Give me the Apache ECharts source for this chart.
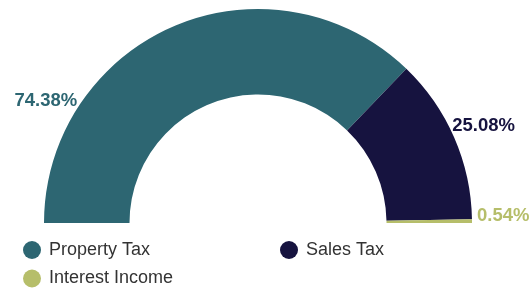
<!DOCTYPE html>
<html>
<head>
<meta charset="utf-8">
<script src="https://cdn.jsdelivr.net/npm/echarts@6/dist/echarts.min.js"></script>
<style>
  html, body { margin: 0; padding: 0; background: #fff; }
  #main { width: 529px; height: 291px; }
</style>
</head>
<body>
<div id="main"></div>
<script>
// revenue shares (percent)
var categories = ['Property Tax', 'Sales Tax', 'Interest Income'];
var shares = [74.38, 25.08, 0.54];
var colors = ['#2d6672', '#16133f', '#b6be6a'];

var myChart = echarts.init(document.getElementById('main'));

var pieData = categories.map(function (name, i) {
    return {
        name: name,
        value: shares[i],
        itemStyle: { color: colors[i] },
        label: { color: colors[i] }
    };
});

// nudge the outside labels to where the original puts them
var labelShift = [[-92, 75], [-7, -12], [0, -5]];

function legendAt(left, names) {
    return {
        data: names,
        orient: 'vertical',
        left: left,
        top: 236,
        height: 60,
        icon: 'circle',
        itemWidth: 24,
        itemHeight: 18,
        itemGap: 10.5,
        textStyle: {
            fontFamily: 'Liberation Sans',
            fontSize: 18,
            lineHeight: 18,
            color: '#333'
        }
    };
}

var option = {
    animation: false,
    legend: [
        legendAt(18, [categories[0], categories[2]]),
        legendAt(275, [categories[1]])
    ],
    series: [{
        type: 'pie',
        center: [258, 223],
        radius: [128.5, 214],
        startAngle: 180,
        endAngle: 360,
        avoidLabelOverlap: false,
        label: {
            show: true,
            position: 'outside',
            fontFamily: 'Liberation Sans',
            fontSize: 18.5,
            fontWeight: 'bold',
            formatter: function (p) { return p.value.toFixed(2) + '%'; }
        },
        labelLine: { show: false, length: 0, length2: 0 },
        labelLayout: function (p) {
            var s = labelShift[p.dataIndex];
            return { dx: s[0], dy: s[1] };
        },
        data: pieData
    }]
};

myChart.setOption(option);
window.addEventListener('resize', function () {
    myChart.resize();
});
</script>
</body>
</html>
